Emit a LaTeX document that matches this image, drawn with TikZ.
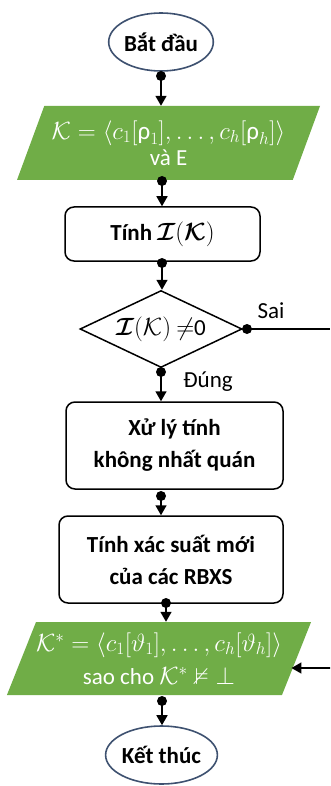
\documentclass[tikz,border=0pt]{standalone}
\usepackage{amsmath,amssymb}
\usepackage{fontspec}
\setmainfont{Carlito}
\usetikzlibrary{shapes.geometric,arrows.meta}
\definecolor{iogreen}{HTML}{70AD47}
\definecolor{termline}{HTML}{3E5170}
\newcommand{\bodyfont}{\fontsize{23}{32}\selectfont}
\newcommand{\formulafont}{\fontsize{25}{26}\selectfont}
\tikzset{
  terminal/.style={ellipse, draw=termline, line width=1.6pt, fill=white,
    minimum width=102pt, minimum height=58pt, inner sep=0pt,
    font=\bodyfont\bfseries},
  iobox/.style={trapezium, trapezium stretches body, fill=iogreen, text=white,
    inner sep=0pt, align=center, font=\bodyfont},
  procbox/.style={draw, rounded corners=9pt, line width=1.5pt, fill=white,
    align=center, font=\bodyfont\bfseries, inner sep=0pt},
  testbox/.style={diamond, aspect=2.1, draw, line width=1.5pt, fill=white,
    inner sep=0pt, minimum width=162pt, minimum height=77pt, font=\bodyfont},
  conn/.style={line width=1.6pt},
  flow/.style={conn, -{Triangle[length=10pt,width=11pt]}},
  joint/.style={circle, fill=black, inner sep=0pt, minimum size=10pt},
  lbl/.style={inner sep=0pt, font=\bodyfont}
}
\begin{document}
\begin{tikzpicture}[x=1pt,y=-1pt]
\useasboundingbox (0,0) rectangle (330,786);

% nodes
\node[terminal] (start) at (161,42) {Bắt đầu};
\node[iobox, trapezium left angle=58.7, trapezium right angle=121.3,
  minimum width=303pt, minimum height=74pt] (input) at (168.5,143)
  {{\formulafont$\mathcal{K}=\langle c_1[\text{ρ}_1],\ldots,c_h[\text{ρ}_h]\rangle$}\\[-6pt] và E};
\node[procbox, minimum width=195pt, minimum height=54pt] (calc) at (162.5,234)
  {Tính $\boldsymbol{\mathcal{I}}(\boldsymbol{\mathcal{K}})$};
\node[testbox] (test) at (161,329) {$\boldsymbol{\mathcal{I}}(\mathcal{K})$ $\neq$0};
\node[procbox, minimum width=217pt, minimum height=87pt] (fix) at (174.5,445.5)
  {Xử lý tính\\ không nhất quán};
\node[procbox, minimum width=224pt, minimum height=87pt] (prob) at (171,559.5)
  {Tính xác suất mới\\ của các RBXS};
\node[iobox, trapezium left angle=60.7, trapezium right angle=119.3,
  minimum width=298pt, minimum height=73pt] (output) at (159,658.5)
  {{\formulafont$\mathcal{K}^*=\langle c_1[\vartheta_1],\ldots,c_h[\vartheta_h]\rangle$}\\[1pt]
   sao cho $\mathcal{K}^*\nvDash\bot$};
\node[terminal] (stop) at (161.5,755) {Kết thúc};

% free ends at the right border
\coordinate (falseOut) at (330,329);
\coordinate (backIn) at (330,668);

% junction dots
\node[joint] (d1) at (161,76) {};
\node[joint] (d2) at (162,181) {};
\node[joint] (d3) at (162,263) {};
\node[joint] (d4) at (247,329) {};
\node[joint] (d5) at (161,372) {};
\node[joint] (d6) at (161,496) {};
\node[joint] (d7) at (166,603) {};
\node[joint] (d8) at (162,701) {};

% connectors
\draw[flow] (d1.center) -- (d1.center |- input.north);
\draw[flow] (d2.center) -- (d2.center |- calc.north);
\draw[flow] (d3.center) -- (d3.center |- test.north);
\draw[conn] (test.east) -- (falseOut);
\draw[flow] (d5.center) -- (d5.center |- fix.north);
\draw[flow] (d6.center) -- (d6.center |- prob.north);
\draw[flow] (d7.center) -- (d7.center |- output.north);
\draw[flow] (backIn) -- ([shift={(-5.3,9.5)}]output.east);
\draw[flow] (d8.center) -- (d8.center |- stop.north);

% branch labels
\node[lbl] (sai) at (271,311) {Sai};
\node[lbl] (dung) at (208,382) {Đúng};
\end{tikzpicture}
\end{document}
